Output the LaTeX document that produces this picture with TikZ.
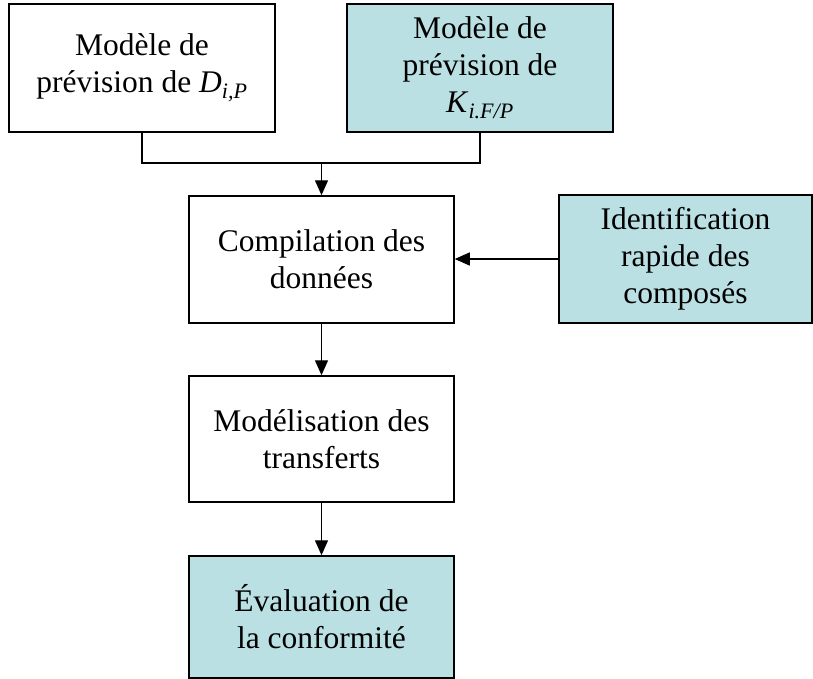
\documentclass[tikz,border=0pt]{standalone}
\usepackage{fontspec}
\setmainfont{Liberation Serif}
\usetikzlibrary{arrows.meta}
\definecolor{bleuclair}{RGB}{187,224,227}
\newcommand{\indice}[1]{\textsubscript{\itshape #1}}
\tikzset{
  boite/.style={draw, line width=1.5pt, minimum width=266pt, minimum height=128pt,
    align=center, inner sep=0pt, font=\fontsize{31.5}{37}\selectfont},
  boitebleue/.style={boite, fill=bleuclair},
  fleche/.style={line width=1.3pt, -{Triangle[length=15pt,width=13pt]}}
}
\begin{document}
\begin{tikzpicture}[x=1pt,y=-1pt]
  \useasboundingbox (0,0) rectangle (813,678);
  %%%%% boites %%%%%
  \node[boite] (prevD) at (142,68) {Modèle de\\prévision de \textit{D}\indice{i,P}};
  \node[boitebleue] (prevK) at (480,68) {Modèle de\\prévision de\\\textit{K}\indice{i.F/P}};
  \node[boite, minimum width=265pt, minimum height=127pt] (compil) at (321.5,259.5) {Compilation des\\données};
  \node[boitebleue, minimum width=253pt] (ident) at (685.5,259) {Identification\\rapide des\\composés};
  \node[boite, minimum width=265pt, minimum height=126pt] (model) at (321.5,439) {Modélisation des\\transferts};
  \node[boitebleue, minimum width=265pt, minimum height=122pt] (evalc) at (321.5,617) {Évaluation de\\la conformité};
  %%%%% liaisons %%%%%
  \coordinate (jonction) at (321.5,163);
  \draw[line width=1.3pt] (prevD.south) |- (jonction) -| (prevK.south);
  \draw[fleche] (jonction) -- (compil.north);
  \draw[fleche] (ident.west) -- (ident.west -| compil.east);
  \draw[fleche] (compil.south) -- (model.north);
  \draw[fleche] (model.south) -- (evalc.north);
\end{tikzpicture}
\end{document}
